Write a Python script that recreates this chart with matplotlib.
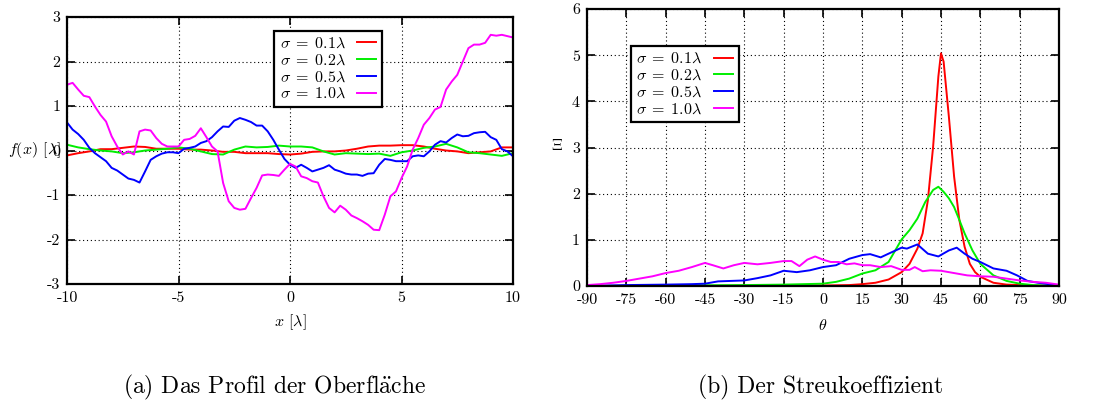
import matplotlib
matplotlib.use("Agg")
import matplotlib.pyplot as plt

plt.rcParams['font.family'] = 'cmr10'
plt.rcParams['mathtext.fontset'] = 'cm'
plt.rcParams['axes.unicode_minus'] = False
plt.rcParams['axes.formatter.use_mathtext'] = True

# (a) surface profiles, x in lambda
x_prof = [-10, -9.75, -9.5, -9.25, -9, -8.75, -8.5, -8.25, -8, -7.75, -7.5, -7.25, -7, -6.75,
          -6.5, -6.25, -6, -5.75, -5.5, -5.25, -5, -4.75, -4.5, -4.25, -4, -3.75, -3.5, -3.25,
          -3, -2.75, -2.5, -2.25, -2, -1.75, -1.5, -1.25, -1, -0.75, -0.5, -0.25, 0, 0.25,
          0.5, 0.75, 1, 1.25, 1.5, 1.75, 2, 2.25, 2.5, 2.75, 3, 3.25, 3.5, 3.75, 4, 4.25,
          4.5, 4.75, 5, 5.25, 5.5, 5.75, 6, 6.25, 6.5, 6.75, 7, 7.25, 7.5, 7.75, 8, 8.25,
          8.5, 8.75, 9, 9.25, 9.5, 9.75, 10]
prof_10 = [1.48, 1.52, 1.37, 1.23, 1.20, 0.99, 0.80, 0.65, 0.32, 0.09, -0.09, -0.02, -0.09, 0.43,
           0.47, 0.45, 0.28, 0.15, 0.09, 0.09, 0.09, 0.24, 0.26, 0.33, 0.50, 0.30, 0.09, -0.02,
           -0.73, -1.14, -1.29, -1.33, -1.31, -1.07, -0.84, -0.56, -0.54, -0.55, -0.57, -0.43, -0.30, -0.36,
           -0.58, -0.62, -0.69, -0.72, -1.03, -1.29, -1.39, -1.24, -1.33, -1.46, -1.52, -1.59, -1.67, -1.78, -1.79, -1.44,
           -1.03, -0.92, -0.62, -0.36, 0.02, 0.28, 0.58, 0.73, 0.92, 0.98, 1.37, 1.55, 1.70, 2.00, 2.30, 2.38,
           2.38, 2.42, 2.60, 2.58, 2.60, 2.57, 2.54]
prof_05 = [0.63, 0.47, 0.37, 0.24, 0.06, -0.06, -0.15, -0.24, -0.39, -0.45, -0.54, -0.63, -0.66, -0.72,
           -0.47, -0.21, -0.13, -0.07, -0.04, -0.04, -0.06, 0.04, 0.06, 0.09, 0.17, 0.21, 0.30, 0.43,
           0.54, 0.53, 0.67, 0.73, 0.69, 0.64, 0.56, 0.56, 0.43, 0.24, 0.02, -0.19, -0.32, -0.39,
           -0.32, -0.39, -0.47, -0.43, -0.39, -0.33, -0.43, -0.47, -0.52, -0.54, -0.54, -0.57, -0.52, -0.51, -0.32, -0.19,
           -0.21, -0.24, -0.24, -0.24, -0.13, -0.11, -0.13, -0.02, 0.13, 0.21, 0.18, 0.28, 0.36, 0.32, 0.33, 0.39,
           0.41, 0.42, 0.30, 0.24, 0.03, -0.02, -0.13]

x_small = [-10, -9.5, -9, -8.5, -8, -7.5, -7, -6.5, -6, -5.5, -5, -4.5, -4, -3.5, -3, -2.5, -2,
           -1.5, -1, -0.5, 0, 0.5, 1, 1.5, 2, 2.5, 3, 3.5, 4, 4.5, 5, 5.5, 6, 6.5, 7, 7.5, 8,
           8.5, 9, 9.5, 10]
prof_01 = [-0.11, -0.06, -0.02, 0.03, 0.03, 0.06, 0.09, 0.08, 0.04, 0.04, 0.04, 0.02, 0.02, 0.00,
           -0.03, -0.03, -0.06, -0.06, -0.06, -0.08, -0.09, -0.07, -0.03, -0.02, -0.02, 0.00, 0.04,
           0.09, 0.11, 0.11, 0.12, 0.12, 0.09, 0.04, 0.00, -0.02, -0.06, -0.04, -0.02, 0.07, 0.07]
prof_02 = [0.13, 0.07, 0.03, 0.00, -0.02, -0.06, -0.04, 0.00, 0.02, 0.04, 0.07, 0.04, -0.02, -0.08,
           -0.09, 0.02, 0.09, 0.07, 0.08, 0.11, 0.09, 0.09, 0.07, -0.02, -0.09, -0.06, -0.07,
           -0.08, -0.07, -0.12, -0.04, 0.00, 0.06, 0.09, 0.15, 0.07, -0.04, -0.06, -0.09, -0.12, -0.06]

# (b) scattering coefficient over theta (deg)
th_01 = [-90, -60, -30, 0, 10, 15, 20, 25, 30, 33, 36, 38, 40, 42, 44, 45, 46, 48, 50, 52, 54,
         56, 58, 60, 65, 70, 80, 90]
xi_01 = [0.0, 0.0, 0.005, 0.01, 0.02, 0.04, 0.07, 0.14, 0.30, 0.48, 0.81, 1.14, 1.86, 3.02, 4.54,
         5.04, 4.86, 3.67, 2.37, 1.43, 0.85, 0.48, 0.30, 0.20, 0.07, 0.03, 0.01, 0.0]
th_02 = [-90, -60, -30, -15, 0, 5, 10, 15, 20, 25, 30, 33, 36, 39, 42, 44, 46, 48, 50, 52, 54,
         57, 60, 65, 70, 75, 80, 90]
xi_02 = [0.0, 0.01, 0.02, 0.03, 0.05, 0.09, 0.16, 0.27, 0.34, 0.52, 1.01, 1.21, 1.46, 1.82, 2.08,
         2.15, 2.04, 1.90, 1.71, 1.43, 1.14, 0.77, 0.48, 0.23, 0.11, 0.05, 0.02, 0.0]
th_05 = [-90, -75, -60, -50, -45, -40, -35, -30, -25, -20, -15, -10, -5, 0, 5, 10, 15, 18, 22,
         25, 30, 32, 36, 40, 44, 48, 51, 54, 57, 60, 65, 70, 74, 78, 82, 86, 90]
xi_05 = [0.0, 0.02, 0.03, 0.04, 0.05, 0.10, 0.11, 0.12, 0.17, 0.23, 0.33, 0.30, 0.34, 0.41, 0.45,
         0.59, 0.67, 0.69, 0.62, 0.70, 0.83, 0.81, 0.90, 0.70, 0.64, 0.77, 0.83, 0.70, 0.59, 0.52,
         0.38, 0.33, 0.23, 0.11, 0.07, 0.04, 0.01]
th_10 = [-90, -85, -80, -75, -70, -65, -60, -55, -50, -45, -42, -38, -34, -30, -25, -20, -15, -12,
         -9, -6, -3, 0, 3, 6, 9, 12, 15, 18, 22, 26, 30, 33, 35, 38, 41, 45, 50, 55, 60, 65, 70,
         75, 80, 85, 90]
xi_10 = [0.02, 0.04, 0.07, 0.11, 0.16, 0.21, 0.28, 0.33, 0.41, 0.50, 0.45, 0.38, 0.45, 0.50, 0.47,
         0.50, 0.54, 0.54, 0.43, 0.57, 0.64, 0.57, 0.52, 0.52, 0.47, 0.49, 0.45, 0.45, 0.41, 0.43,
         0.35, 0.35, 0.41, 0.32, 0.34, 0.33, 0.28, 0.23, 0.21, 0.20, 0.16, 0.12, 0.09, 0.07, 0.03]

labels = [r'$\sigma\;=\;0.1\lambda$', r'$\sigma\;=\;0.2\lambda$',
          r'$\sigma\;=\;0.5\lambda$', r'$\sigma\;=\;1.0\lambda$']
colors = ['#ff0000', '#00ee00', '#0000ff', '#ff00ff']

fig = plt.figure(figsize=(10.99, 4.04), dpi=100)
ax1 = fig.add_axes([0.0610, 0.2970, 0.4058, 0.6609])
ax2 = fig.add_axes([0.5341, 0.2921, 0.4295, 0.6856])


def style(ax, xt, yt):
    ax.set_xticks(xt)
    ax.set_xticklabels([str(v) for v in xt])
    ax.set_yticks(yt)
    ax.set_yticklabels([str(v) for v in yt])
    ax.tick_params(direction='in', length=6, width=1.2, top=True, right=True,
                   labelsize=11.5, pad=5)
    ax.grid(True, color='black', linestyle=(0, (1, 2.5)), linewidth=0.8)
    ax.set_axisbelow(True)
    for s in ax.spines.values():
        s.set_linewidth(1.6)


# left
ax1.plot(x_small, prof_01, color=colors[0], lw=1.4, label=labels[0])
ax1.plot(x_small, prof_02, color=colors[1], lw=1.4, label=labels[1])
ax1.plot(x_prof, prof_05, color=colors[2], lw=1.4, label=labels[2])
ax1.plot(x_prof, prof_10, color=colors[3], lw=1.4, label=labels[3])
ax1.set_xlim(-10, 10)
ax1.set_ylim(-3, 3)
style(ax1, [-10, -5, 0, 5, 10], [-3, -2, -1, 0, 1, 2, 3])

# right
ax2.plot(th_01, xi_01, color=colors[0], lw=1.4, label=labels[0])
ax2.plot(th_02, xi_02, color=colors[1], lw=1.4, label=labels[1])
ax2.plot(th_05, xi_05, color=colors[2], lw=1.4, label=labels[2])
ax2.plot(th_10, xi_10, color=colors[3], lw=1.4, label=labels[3])
ax2.set_xlim(-90, 90)
ax2.set_ylim(0, 6)
style(ax2, list(range(-90, 91, 15)), [0, 1, 2, 3, 4, 5, 6])

for ax, anchor in [(ax1, (0.464, 0.948)), (ax2, (0.093, 0.866))]:
    leg = ax.legend(loc='upper left', bbox_to_anchor=anchor, borderaxespad=0,
                    fontsize=11.5, markerfirst=False, fancybox=False, framealpha=1,
                    edgecolor='black', handlelength=1.2, labelspacing=0.15,
                    borderpad=0.35, handletextpad=0.7)
    leg.get_frame().set_linewidth(1.6)

fig.text(8 / 1099, 1 - 150 / 404, r'$f(x)$ [$\lambda$]', ha='left', va='center', fontsize=11.5)
fig.text(557 / 1099, 1 - 146 / 404, r'$\Xi$', ha='center', va='center', fontsize=11.5)
fig.text(290 / 1099, 1 - 322 / 404, r'$x$ [$\lambda$]', ha='center', va='center', fontsize=11.5)
fig.text(823 / 1099, 1 - 326 / 404, r'$\theta$', ha='center', va='center', fontsize=11.5)

fig.text(274 / 1099, 1 - 393 / 404, r'(a) Das Profil der Oberfl$\ddot{\mathrm{a}}$che',
         ha='center', va='baseline', fontsize=17)
fig.text(821 / 1099, 1 - 393 / 404, '(b) Der Streukoeffizient',
         ha='center', va='baseline', fontsize=17)

fig.savefig('out.png', dpi=100)
